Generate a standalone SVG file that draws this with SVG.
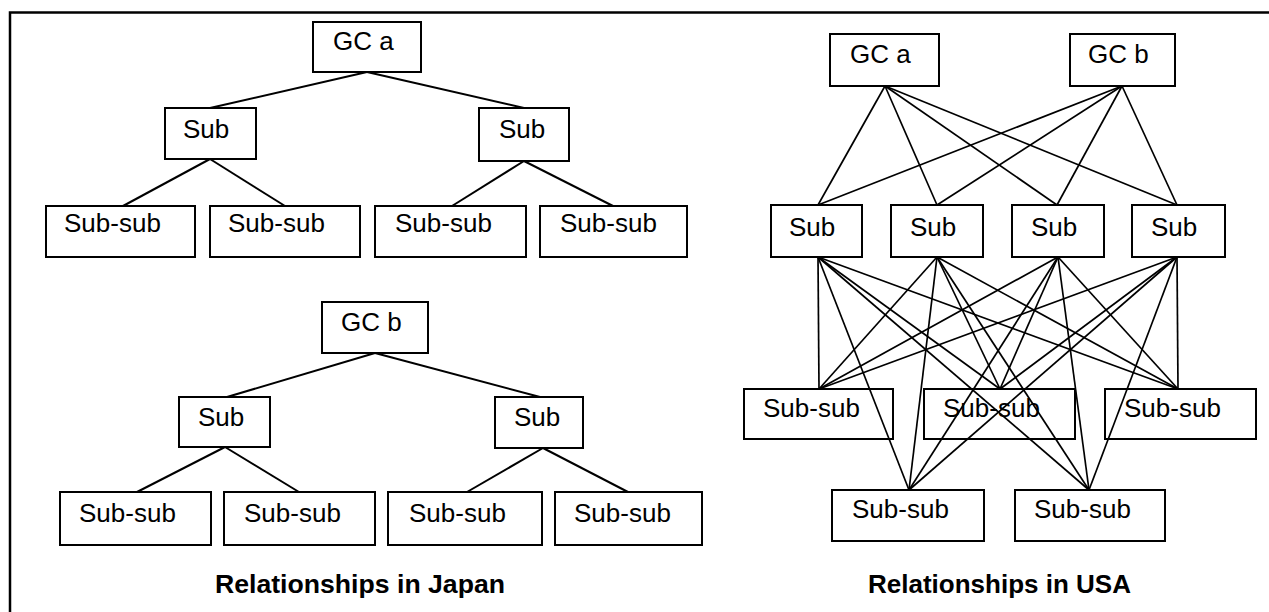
<svg xmlns="http://www.w3.org/2000/svg" width="1269" height="612" viewBox="0 0 1269 612">
<style>
.box{fill:none;stroke:#000;stroke-width:2}
.lbl{font-family:"Liberation Sans",Arial,Helvetica,sans-serif;font-size:26px;fill:#000}
.cap{font-family:"Liberation Sans",Arial,Helvetica,sans-serif;font-size:26px;font-weight:bold;fill:#000}
.ln{stroke:#000;stroke-width:2;fill:none}
.ln2{stroke:#000;stroke-width:1.7;fill:none}
.frame{stroke:#000;stroke-width:2.5;fill:none}
</style>
<rect x="0" y="0" width="1269" height="612" fill="#fff"/>
<g id="frame">
<path class="frame" d="M10,612 V12.5 H1269"/>
</g>
<g id="connectors">
<!-- Japan top -->
<line class="ln" x1="367" y1="72" x2="210" y2="108"/>
<line class="ln" x1="367" y1="72" x2="524" y2="108"/>
<line class="ln" x1="210" y1="159" x2="123" y2="206"/>
<line class="ln" x1="210" y1="159" x2="285" y2="206"/>
<line class="ln" x1="524" y1="161" x2="452" y2="206"/>
<line class="ln" x1="524" y1="161" x2="613" y2="206"/>
<!-- Japan bottom -->
<line class="ln" x1="375" y1="353" x2="227" y2="397"/>
<line class="ln" x1="375" y1="353" x2="540" y2="397"/>
<line class="ln" x1="225" y1="447" x2="137" y2="492"/>
<line class="ln" x1="225" y1="447" x2="299" y2="492"/>
<line class="ln" x1="543" y1="448" x2="467" y2="492"/>
<line class="ln" x1="543" y1="448" x2="628" y2="492"/>
<!-- USA GC to Sub -->
<line class="ln2" x1="885" y1="86" x2="818" y2="205"/>
<line class="ln2" x1="885" y1="86" x2="937" y2="205"/>
<line class="ln2" x1="885" y1="86" x2="1057" y2="205"/>
<line class="ln2" x1="885" y1="86" x2="1177" y2="205"/>
<line class="ln2" x1="1122" y1="86" x2="818" y2="205"/>
<line class="ln2" x1="1122" y1="86" x2="937" y2="205"/>
<line class="ln2" x1="1122" y1="86" x2="1057" y2="205"/>
<line class="ln2" x1="1122" y1="86" x2="1177" y2="205"/>
<!-- USA Sub to Sub-sub -->
<line class="ln2" x1="818" y1="257" x2="819" y2="389"/>
<line class="ln2" x1="818" y1="257" x2="1000" y2="389"/>
<line class="ln2" x1="818" y1="257" x2="1178" y2="389"/>
<line class="ln2" x1="818" y1="257" x2="909" y2="490"/>
<line class="ln2" x1="818" y1="257" x2="1089" y2="490"/>
<line class="ln2" x1="937" y1="257" x2="819" y2="389"/>
<line class="ln2" x1="937" y1="257" x2="1000" y2="389"/>
<line class="ln2" x1="937" y1="257" x2="1178" y2="389"/>
<line class="ln2" x1="937" y1="257" x2="909" y2="490"/>
<line class="ln2" x1="937" y1="257" x2="1089" y2="490"/>
<line class="ln2" x1="1058" y1="257" x2="819" y2="389"/>
<line class="ln2" x1="1058" y1="257" x2="1000" y2="389"/>
<line class="ln2" x1="1058" y1="257" x2="1178" y2="389"/>
<line class="ln2" x1="1058" y1="257" x2="909" y2="490"/>
<line class="ln2" x1="1058" y1="257" x2="1089" y2="490"/>
<line class="ln2" x1="1177" y1="257" x2="819" y2="389"/>
<line class="ln2" x1="1177" y1="257" x2="1000" y2="389"/>
<line class="ln2" x1="1177" y1="257" x2="1178" y2="389"/>
<line class="ln2" x1="1177" y1="257" x2="909" y2="490"/>
<line class="ln2" x1="1177" y1="257" x2="1089" y2="490"/>
</g>
<!-- Japan top tree -->
<g id="jp-gca"><rect class="box" x="313" y="22" width="108" height="50"/><text class="lbl" x="333" y="50">GC a</text></g>
<g id="jp-a-sub1"><rect class="box" x="165" y="108" width="91" height="51"/><text class="lbl" x="183" y="138">Sub</text></g>
<g id="jp-a-sub2"><rect class="box" x="479" y="108" width="90" height="53"/><text class="lbl" x="499" y="138">Sub</text></g>
<g id="jp-a-ss1"><rect class="box" x="46" y="206" width="149" height="51"/><text class="lbl" x="64" y="232">Sub-sub</text></g>
<g id="jp-a-ss2"><rect class="box" x="210" y="206" width="150" height="51"/><text class="lbl" x="228" y="232">Sub-sub</text></g>
<g id="jp-a-ss3"><rect class="box" x="375" y="206" width="151" height="51"/><text class="lbl" x="395" y="232">Sub-sub</text></g>
<g id="jp-a-ss4"><rect class="box" x="540" y="206" width="147" height="51"/><text class="lbl" x="560" y="232">Sub-sub</text></g>
<!-- Japan bottom tree -->
<g id="jp-gcb"><rect class="box" x="322" y="302" width="106" height="51"/><text class="lbl" x="341" y="331">GC b</text></g>
<g id="jp-b-sub1"><rect class="box" x="179" y="397" width="91" height="50"/><text class="lbl" x="198" y="426">Sub</text></g>
<g id="jp-b-sub2"><rect class="box" x="495" y="397" width="88" height="51"/><text class="lbl" x="514" y="426">Sub</text></g>
<g id="jp-b-ss1"><rect class="box" x="60" y="492" width="151" height="53"/><text class="lbl" x="79" y="522">Sub-sub</text></g>
<g id="jp-b-ss2"><rect class="box" x="224" y="492" width="151" height="53"/><text class="lbl" x="244" y="522">Sub-sub</text></g>
<g id="jp-b-ss3"><rect class="box" x="388" y="492" width="154" height="53"/><text class="lbl" x="409" y="522">Sub-sub</text></g>
<g id="jp-b-ss4"><rect class="box" x="555" y="492" width="147" height="53"/><text class="lbl" x="574" y="522">Sub-sub</text></g>
<g id="jp-caption"><text class="cap" x="215" y="593" textLength="290" lengthAdjust="spacingAndGlyphs">Relationships in Japan</text></g>
<!-- USA -->
<g id="us-gca"><rect class="box" x="830" y="34" width="109" height="52"/><text class="lbl" x="850" y="63">GC a</text></g>
<g id="us-gcb"><rect class="box" x="1070" y="34" width="105" height="52"/><text class="lbl" x="1088" y="63">GC b</text></g>
<g id="us-sub1"><rect class="box" x="771" y="205" width="91" height="52"/><text class="lbl" x="789" y="236">Sub</text></g>
<g id="us-sub2"><rect class="box" x="891" y="205" width="92" height="52"/><text class="lbl" x="910" y="236">Sub</text></g>
<g id="us-sub3"><rect class="box" x="1012" y="205" width="92" height="52"/><text class="lbl" x="1031" y="236">Sub</text></g>
<g id="us-sub4"><rect class="box" x="1132" y="205" width="93" height="52"/><text class="lbl" x="1151" y="236">Sub</text></g>
<g id="us-ss1"><rect class="box" x="744" y="389" width="149" height="50"/><text class="lbl" x="763" y="417">Sub-sub</text></g>
<g id="us-ss2"><rect class="box" x="924" y="389" width="151" height="50"/><text class="lbl" x="943" y="417">Sub-sub</text></g>
<g id="us-ss3"><rect class="box" x="1105" y="389" width="151" height="50"/><text class="lbl" x="1124" y="417">Sub-sub</text></g>
<g id="us-ss4"><rect class="box" x="832" y="490" width="152" height="51"/><text class="lbl" x="852" y="518">Sub-sub</text></g>
<g id="us-ss5"><rect class="box" x="1015" y="490" width="150" height="51"/><text class="lbl" x="1034" y="518">Sub-sub</text></g>
<g id="us-caption"><text class="cap" x="868" y="593">Relationships in USA</text></g>
</svg>
